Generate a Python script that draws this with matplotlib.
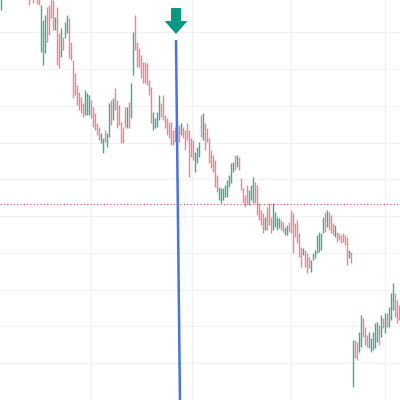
import numpy as np
import matplotlib
matplotlib.use("Agg")
import matplotlib.pyplot as plt
from matplotlib.patches import Polygon

# bar highs / lows (price units), groups of 10 bars
highs = [425, 445, 450, 440, 445, 448, 440, 445, 450, 442,
         440, 445, 438, 440, 430, 435, 428, 432, 425, 420,
         395, 380, 385, 393, 395, 405, 400, 383, 393, 367,
         372, 363, 378, 385, 382, 358, 340, 327, 315, 308,
         303, 297, 310, 307, 305, 300, 293, 287, 277, 273,
         267, 262, 270, 267, 297, 300, 302, 312, 300, 295,
         278, 273, 293, 293, 298, 317, 368, 385, 358, 352,
         345, 338, 338, 337, 320, 313, 288, 282, 288, 305,
         297, 305, 285, 282, 278, 278, 270, 273, 275, 275,
         277, 273, 270, 277, 270, 262, 260, 248, 253, 258,
         285, 287, 277, 272, 262, 250, 245, 240, 225, 213,
         212, 212, 215, 220, 225, 237, 238, 245, 245, 243,
         222, 212, 205, 215, 210, 215, 223, 218, 215, 197,
         190, 187, 183, 193, 197, 183, 197, 188, 183, 182,
         180, 178, 173, 175, 178, 190, 187, 177, 180, 167,
         153, 152, 150, 147, 143, 140, 147, 150, 165, 168,
         167, 183, 188, 190, 188, 185, 177, 175, 168, 167,
         165, 167, 165, 163, 150, 148, 60, 60, 58, 68,
         85, 82, 73, 65, 68, 62, 68, 77, 78, 75,
         85, 82, 87, 87, 93, 107, 117, 107, 100, 95]
lows = [390, 415, 420, 410, 412, 418, 410, 415, 420, 412,
        410, 412, 408, 405, 395, 402, 397, 404, 396, 395,
        348, 335, 347, 358, 365, 382, 370, 370, 335, 332,
        343, 350, 362, 367, 342, 340, 302, 305, 295, 290,
        287, 283, 285, 285, 285, 282, 273, 270, 265, 260,
        257, 247, 258, 253, 263, 275, 280, 290, 272, 275,
        257, 257, 273, 272, 272, 282, 325, 350, 333, 333,
        322, 317, 317, 315, 305, 277, 270, 272, 273, 280,
        283, 280, 272, 265, 262, 255, 255, 258, 260, 258,
        265, 262, 250, 260, 223, 243, 240, 228, 237, 243,
        263, 260, 250, 258, 237, 232, 228, 213, 208, 200,
        197, 200, 203, 203, 213, 217, 228, 230, 233, 230,
        210, 197, 193, 197, 195, 200, 197, 197, 185, 180,
        175, 167, 170, 170, 175, 167, 170, 173, 170, 172,
        170, 168, 165, 165, 168, 167, 147, 163, 157, 143,
        133, 145, 133, 127, 132, 128, 140, 142, 147, 148,
        150, 167, 168, 173, 170, 167, 165, 163, 158, 160,
        157, 158, 155, 135, 142, 137, 13, 42, 40, 48,
        53, 63, 55, 53, 52, 48, 50, 52, 58, 55,
        63, 72, 67, 73, 73, 80, 90, 83, 77, 80]
# u = up bar, d = down bar
direction = ("uddudduddu dddudddddd uuuddddudd uduudddddd dduuuddddd "
             "uuduududdd ddduduuddd dddddduuuu dddddddddd udddddduuu "
             "dudddddddu uuuuuuudud dddduuuddd dduddduuuu dduudddddd "
             "duddduuuuu uududddudd ddddududdu uddduuuuud ududuuuddd").replace(" ", "")

last_price = 196
marker_bar = 87.5

up_col = "#40aa93"
down_col = "#ee838d"

fig = plt.figure(figsize=(4, 4), dpi=100)
ax = fig.add_axes([0, 0, 1, 1])

x = np.arange(len(highs))
cols = [up_col if d == "u" else down_col for d in direction]
ax.vlines(x, lows, highs, colors=cols, linewidth=1.0)

# grid
ax.set_yticks(np.arange(0.2, 400, 36.75))
ax.set_xticks([45, 95.5, 145, 192])
ax.grid(True, color="#f0f1f4", linewidth=0.9)
ax.set_axisbelow(True)
ax.tick_params(length=0, labelleft=False, labelbottom=False)
for s in ax.spines.values():
    s.set_visible(False)

# last price line
ax.axhline(last_price, color="#c9494f", linestyle=(0, (1, 2)), linewidth=0.8)

# marker line + arrow
ax.plot([marker_bar, marker_bar + 2], [360, -5], color="#4a72e0", linewidth=1.8,
        solid_capstyle="butt")
arrow = Polygon([(85, 392), (90, 392), (90, 379), (93.2, 379), (87.5, 366),
                 (81.8, 379), (85, 379)], closed=True, color="#089981", lw=0)
ax.add_patch(arrow)

ax.set_xlim(-0.5, 199.5)
ax.set_ylim(0, 400)
fig.savefig("out.png", dpi=100)
